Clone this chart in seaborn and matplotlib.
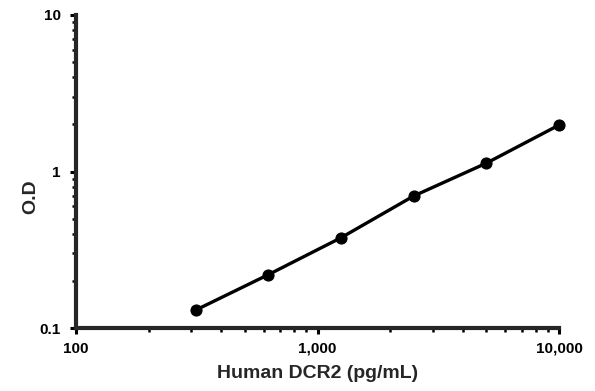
#!/usr/bin/env python3
import matplotlib
matplotlib.use("Agg")
import matplotlib.pyplot as plt
import matplotlib.ticker as mticker
import pandas as pd
import seaborn as sns

conc = [312.5, 625, 1250, 2500, 5000, 10000]
od = [0.130, 0.219, 0.377, 0.697, 1.13, 1.98]

sns.set_style("ticks")
plt.rcParams.update(
    {
        "font.family": ["Liberation Sans", "DejaVu Sans"],
        "font.weight": "bold",
        "axes.linewidth": 3.0,
    }
)

df = pd.DataFrame({"conc": conc, "od": od})

fig = plt.figure(figsize=(5.95, 3.91), dpi=100)
ax = fig.add_axes([76 / 595, 1 - 328 / 391, (559 - 76) / 595, (328 - 15) / 391])
sns.lineplot(data=df, x="conc", y="od", ax=ax, color="black", linewidth=2.4,
             marker="o", markersize=8, markeredgecolor="black", clip_on=False)

ax.set_xscale("log")
ax.set_yscale("log")
ax.set_xlim(100, 10000)
ax.set_ylim(0.1, 10)
sns.despine(ax=ax)

ax.xaxis.set_major_formatter(mticker.FuncFormatter(lambda v, p: f"{v:,.0f}"))
ax.yaxis.set_major_formatter(mticker.FuncFormatter(lambda v, p: f"{v:g}"))
ax.xaxis.set_minor_formatter(mticker.NullFormatter())
ax.yaxis.set_minor_formatter(mticker.NullFormatter())
ax.tick_params(which="major", length=4, width=2.2, labelsize=11, colors="black")
ax.tick_params(axis="x", which="major", pad=6)
ax.tick_params(axis="y", which="major", pad=7)
ax.tick_params(which="minor", length=3, width=1.8, colors="black")
for lab in ax.get_xticklabels() + ax.get_yticklabels():
    lab.set_fontweight("bold")

ax.set_xlabel("Human DCR2 (pg/mL)", fontsize=14, fontweight="bold")
ax.set_ylabel("O.D", fontsize=14, fontweight="bold")
ax.xaxis.set_label_coords(0.5, -(374 - 328) / 313, transform=ax.transAxes)
ax.xaxis.label.set_va("center")
ax.yaxis.set_label_coords(-(76 - 31) / 483, (328 - 197) / 313, transform=ax.transAxes)
ax.yaxis.label.set_va("center")

fig.savefig("out.png", dpi=100)
